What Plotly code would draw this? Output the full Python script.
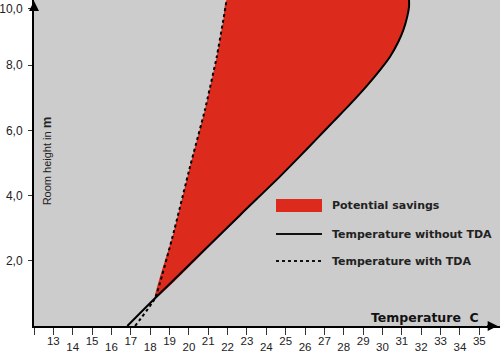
import plotly.graph_objects as go

# ---- data ----
solid_temp = [16.82, 18.25, 22.64, 24.71, 25.74, 26.60, 27.46, 28.32, 29.18, 29.87, 30.39, 30.82, 31.08, 31.28, 31.37, 31.37]
solid_h    = [0.0,   0.85,  3.40,  4.59,  5.21,  5.74,  6.27,  6.80,  7.36,  7.85,  8.26,  8.72,  9.08,  9.49,  9.79,  10.0]
dotted_temp = [17.22, 18.25, 19.20, 20.06, 20.83, 21.44, 21.78, 21.95]
dotted_h    = [0.0,   0.85,  2.84,  4.89,  6.63,  8.26,  9.39,  10.0]

x_tick_vals = list(range(12, 36))
x_labels_high = [13, 15, 17, 19, 21, 23, 25, 27, 29, 31, 33, 35]
x_labels_low = [14, 16, 18, 20, 22, 24, 26, 28, 30, 32, 34]
y_tick_vals = [2, 4, 6, 8, 9.73]
y_tick_text = ["2,0", "4,0", "6,0", "8,0", "10,0"]

legend_labels = ["Potential savings", "Temperature without TDA", "Temperature with TDA"]

RED = "#dc2b1c"
GRAY = "#cccccc"
FONT = "Liberation Sans, Arial, sans-serif"
BFONT = "DejaVu Sans, Verdana, sans-serif"

fig = go.Figure()

# filled savings region: dotted (from junction upward) then solid (from top downward)
fill_x = dotted_temp[1:] + solid_temp[1:][::-1]
fill_y = dotted_h[1:] + solid_h[1:][::-1]
fig.add_trace(go.Scatter(x=fill_x, y=fill_y, fill="toself", fillcolor=RED,
                         line=dict(width=0, color=RED, shape="spline", smoothing=0.4),
                         mode="lines", hoverinfo="skip", showlegend=False))
fig.add_trace(go.Scatter(x=solid_temp, y=solid_h, mode="lines",
                         line=dict(color="black", width=2, shape="spline", smoothing=0.8),
                         showlegend=False))
fig.add_trace(go.Scatter(x=dotted_temp, y=dotted_h, mode="lines",
                         line=dict(color="black", width=2, dash="dot", shape="spline", smoothing=0.4),
                         showlegend=False))
# invisible trace for the secondary (lower label row) x axis
fig.add_trace(go.Scatter(x=[x_labels_low[0]], y=[0], xaxis="x2", mode="markers",
                         marker=dict(opacity=0), hoverinfo="skip", showlegend=False))

xrange = [12, 36.07]
fig.update_layout(
    width=500, height=352,
    margin=dict(l=34, r=0, t=0, b=26),
    paper_bgcolor="white", plot_bgcolor=GRAY,
    font=dict(family=FONT, size=11, color="#222"),
    showlegend=False,
    xaxis=dict(range=xrange, showgrid=False, zeroline=False, showline=True,
               linecolor="black", linewidth=2, ticks="outside", ticklen=7,
               tickcolor="#333", tickwidth=1, automargin=False,
               tickvals=x_tick_vals,
               ticktext=[str(v) if v in x_labels_high else "" for v in x_tick_vals],
               ticklabelstandoff=-4,
               tickfont=dict(size=11.5, color="#222")),
    xaxis2=dict(range=xrange, overlaying="x", anchor="y", side="bottom",
                showgrid=False, zeroline=False, showline=False, ticks="",
                automargin=False,
                tickvals=x_labels_low, ticktext=[str(v) for v in x_labels_low],
                ticklabelstandoff=12,
                tickfont=dict(size=11.5, color="#222")),
    yaxis=dict(range=[0, 10], showgrid=False, zeroline=False, showline=True,
               linecolor="black", linewidth=2, ticks="outside", ticklen=4,
               tickcolor="#333", tickwidth=1, ticklabelstandoff=3, automargin=False,
               tickvals=y_tick_vals, ticktext=y_tick_text,
               tickfont=dict(size=12, color="#222")),
)

# axis arrows
fig.add_annotation(xref="paper", yref="paper", x=0, y=1, ax=0, ay=12,
                   showarrow=True, arrowhead=2, arrowsize=1, arrowwidth=2,
                   arrowcolor="black", text="")
fig.add_annotation(xref="paper", yref="paper", x=0.995, y=0, ax=-12, ay=0,
                   showarrow=True, arrowhead=2, arrowsize=1, arrowwidth=2,
                   arrowcolor="black", text="")

# axis titles
fig.add_annotation(xref="paper", yref="paper", x=1, y=0, xanchor="right", yanchor="bottom",
                   xshift=-19, yshift=-1, showarrow=False,
                   text="<b>Temperature&nbsp;&nbsp;C</b>",
                   font=dict(family=BFONT, size=12.5, color="#111"))
fig.add_annotation(xref="paper", yref="paper", x=0, y=0.505, xanchor="center", yanchor="middle",
                   xshift=12, showarrow=False, textangle=-90,
                   text="Room height in <b><span style='font-size:13px'>m</span></b>",
                   font=dict(family=FONT, size=11, color="#222"))

# manual legend
lx0, lx1 = 276, 322
ys = [205.5, 234, 261]
W, H = 500, 352
pw, ph = W - 34, H - 26
def px(xp): return (xp - 34) / pw
def py(yp): return 1 - yp / ph

fig.add_shape(type="rect", xref="paper", yref="paper",
              x0=px(lx0), x1=px(lx1), y0=py(ys[0] - 6.5), y1=py(ys[0] + 6.5),
              fillcolor=RED, line=dict(width=0))
fig.add_shape(type="line", xref="paper", yref="paper",
              x0=px(lx0), x1=px(lx1), y0=py(ys[1]), y1=py(ys[1]),
              line=dict(color="#111", width=2))
fig.add_shape(type="line", xref="paper", yref="paper",
              x0=px(lx0), x1=px(lx1), y0=py(ys[2]), y1=py(ys[2]),
              line=dict(color="#111", width=2, dash="dot"))
for lab, yy in zip(legend_labels, ys):
    fig.add_annotation(xref="paper", yref="paper", x=px(330), y=py(yy),
                       xanchor="left", yanchor="middle", showarrow=False,
                       text="<b>" + lab + "</b>",
                       font=dict(family=BFONT, size=11, color="#222"))

fig.write_html("out.html")
